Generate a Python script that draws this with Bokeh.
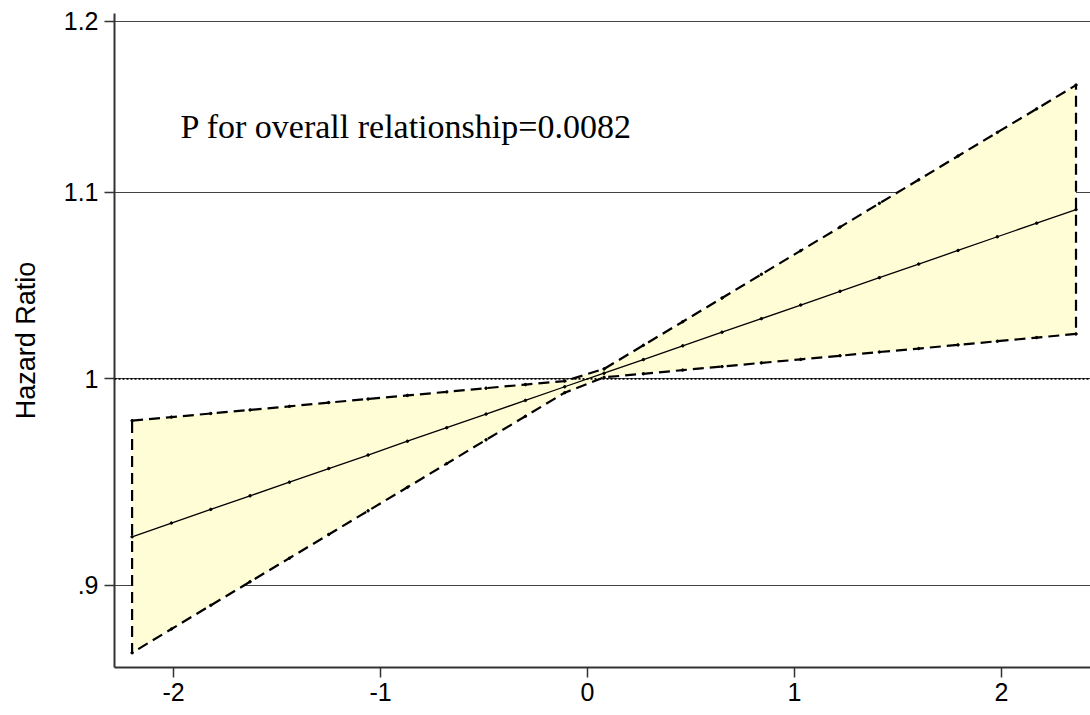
from bokeh.plotting import figure
from bokeh.models import FixedTicker, CustomJSTickFormatter, Span, Range1d
from bokeh.core.properties import value
from bokeh.embed import file_html
from bokeh.resources import INLINE

# Exposure (standardised) grid and estimated hazard ratios
x_vals = [-2.20, -2.01, -1.82, -1.63, -1.44, -1.25, -1.06, -0.87, -0.68, -0.49,
          -0.30, -0.11, 0.08, 0.27, 0.46, 0.65, 0.84, 1.03, 1.22, 1.41,
          1.60, 1.79, 1.98, 2.17, 2.36]
hr = [0.9226, 0.9291, 0.9356, 0.9421, 0.9487, 0.9553, 0.9619, 0.9687, 0.9754, 0.9822,
      0.9891, 0.9960, 1.0029, 1.0099, 1.0170, 1.0241, 1.0312, 1.0384, 1.0457, 1.0530,
      1.0603, 1.0677, 1.0752, 1.0827, 1.0902]
ci_upper = [0.9789, 0.9807, 0.9825, 0.9843, 0.9861, 0.9880, 0.9898, 0.9916, 0.9934, 0.9953,
            0.9971, 0.9989, 1.0051, 1.0173, 1.0296, 1.0421, 1.0548, 1.0676, 1.0805, 1.0937,
            1.1069, 1.1204, 1.1340, 1.1477, 1.1617]
ci_lower = [0.8696, 0.8802, 0.8909, 0.9017, 0.9126, 0.9237, 0.9349, 0.9462, 0.9577, 0.9694,
            0.9811, 0.9930, 1.0008, 1.0026, 1.0045, 1.0063, 1.0082, 1.0100, 1.0119, 1.0138,
            1.0156, 1.0175, 1.0194, 1.0213, 1.0232]

y_ticks = [0.9, 1.0, 1.1, 1.2]
x_ticks = [-2, -1, 0, 1, 2]
reference_hr = 1.0
annotation = "P for overall relationship=0.0082"
y_label = "Hazard Ratio"

p = figure(width=1090, height=715, output_backend="svg", toolbar_location=None,
           y_axis_type="log",
           x_range=Range1d(-2.285, 2.430), y_range=Range1d(0.8631, 1.2049),
           min_border_left=114, min_border_bottom=48, min_border_top=13, min_border_right=0)
p.outline_line_color = None
p.background_fill_color = "white"
p.border_fill_color = "white"

# grid
p.xgrid.visible = False
p.ygrid.ticker = FixedTicker(ticks=y_ticks)
p.ygrid.grid_line_color = "#444444"
p.ygrid.grid_line_width = 1

# confidence band
band_x = x_vals + x_vals[::-1]
band_y = ci_upper + ci_lower[::-1]
p.patch(band_x, band_y, fill_color="#FEFDD6", line_color=None)
outline_x = band_x + [x_vals[0]]
outline_y = band_y + [ci_upper[0]]
p.line(outline_x, outline_y, line_color="black", line_width=2.2, line_dash="11 6")
p.scatter(x_vals, ci_upper, size=2.5, color="black")
p.scatter(x_vals, ci_lower, size=2.5, color="black")

# reference line
p.add_layout(Span(location=reference_hr, dimension="width", line_color="black",
                  line_width=1.8, line_dash="2 2"))

# point estimate
p.line(x_vals, hr, line_color="black", line_width=1.3)
p.scatter(x_vals, hr, size=2.5, color="black")

# annotation
p.text(x=[-1.966], y=[1.1375], text=[annotation], text_font=value("Liberation Serif"),
       text_font_size="34px", text_color="black", text_baseline="alphabetic", text_align="left")

# axes
for ax in (p.xaxis[0], p.yaxis[0]):
    ax.axis_line_color = "#333333"
    ax.axis_line_width = 2
    ax.major_tick_line_color = "#333333"
    ax.major_tick_line_width = 1.5
    ax.major_tick_out = 10
    ax.major_tick_in = 0
    ax.minor_tick_out = 0
    ax.minor_tick_in = 0
    ax.major_label_text_font = "Liberation Sans"
    ax.major_label_text_font_size = "25px"
    ax.major_label_text_color = "black"

p.xaxis.ticker = FixedTicker(ticks=x_ticks)
p.xaxis.formatter = CustomJSTickFormatter(code="return tick.toFixed(0);")
p.xaxis.major_label_standoff = 5

p.yaxis.ticker = FixedTicker(ticks=y_ticks)
p.yaxis.formatter = CustomJSTickFormatter(
    code="return tick.toFixed(1).replace(/^0/, '').replace(/\\.0$/, '');")
p.yaxis.major_label_standoff = 6
p.yaxis.axis_label = y_label
p.yaxis.axis_label_text_font = "Liberation Sans"
p.yaxis.axis_label_text_font_size = "27px"
p.yaxis.axis_label_text_font_style = "normal"
p.yaxis.axis_label_text_color = "black"
p.yaxis.axis_label_standoff = 20

open("out.html", "w").write(file_html(p, INLINE))
